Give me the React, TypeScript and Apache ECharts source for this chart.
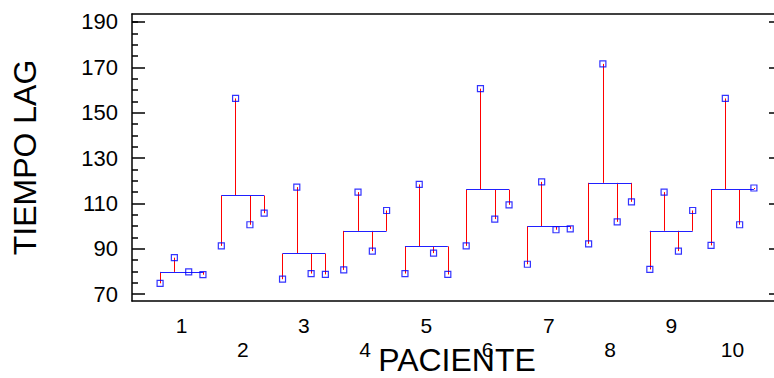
import React, { useEffect, useRef } from "react";
import * as echarts from "echarts";

// Patient numbers and the four repeated lag-time measurements per patient
const pacientes = [1, 2, 3, 4, 5, 6, 7, 8, 9, 10];
const medida1 = [74.8, 91.3, 76.6, 80.7, 79.1, 91.3, 83.2, 92.2, 80.9, 91.5];
const medida2 = [86.1, 156.3, 117.2, 115.0, 118.4, 160.6, 119.5, 171.5, 115.0, 156.3];
const medida3 = [79.8, 100.6, 79.1, 89.0, 88.1, 103.1, 98.4, 101.9, 89.0, 100.6];
const medida4 = [78.6, 105.7, 78.7, 106.9, 78.7, 109.4, 98.8, 110.7, 106.9, 116.8];

// Horizontal placement of each measurement around its patient
const desplazamientos = [-0.35, -0.117, 0.117, 0.35];

// Y tick values
const ticksMayores = [70, 90, 110, 130, 150, 170, 190];
const ticksMenores = [75, 80, 85, 95, 100, 105, 115, 120, 125, 135, 140, 145, 155, 160, 165, 175, 180, 185, 190];

const FONT = "'Liberation Sans', Arial, sans-serif";

export default function App() {
  const ref = useRef<HTMLDivElement>(null);

  useEffect(() => {
    if (!ref.current) return;
    const chart = echarts.init(ref.current, null, { renderer: "svg" });

    const medidas = [medida1, medida2, medida3, medida4];
    const puntos: number[][] = [];
    const verticales: { coords: number[][] }[] = [];
    const medias: { coords: number[][] }[] = [];

    pacientes.forEach((p, i) => {
      const vals = medidas.map((m) => m[i]);
      const media = vals.reduce((a, b) => a + b, 0) / vals.length;
      const xs = desplazamientos.map((d) => p + d);
      medias.push({ coords: [[xs[0], media], [xs[xs.length - 1], media]] });
      vals.forEach((v, j) => {
        puntos.push([xs[j], v]);
        verticales.push({ coords: [[xs[j], media], [xs[j], v]] });
      });
    });

    const xMin = 0.191;
    const xMax = 10.809;
    const yMin = 67;
    const yMax = 193.5;
    const frame = { lineStyle: { color: "#000", width: 1.5 } };

    chart.setOption({
      animation: false,
      grid: {
        left: 132,
        right: -8,
        top: 14,
        bottom: 77,
        containLabel: false,
        outerBoundsMode: "none",
      },
      xAxis: [
        {
          type: "value",
          position: "bottom",
          min: xMin,
          max: xMax,
          axisLine: { show: true, ...frame },
          axisTick: { show: false },
          splitLine: { show: false },
          axisLabel: {
            customValues: pacientes,
            formatter: (v: number) => (v % 2 === 0 ? "\n" + v : String(v)),
            fontSize: 21,
            lineHeight: 24,
            color: "#000",
            fontFamily: FONT,
            margin: 12,
          },
          name: "PACIENTE",
          nameLocation: "middle",
          nameGap: 43,
          nameMoveOverlap: false,
          nameTextStyle: { fontSize: 32, color: "#000", fontFamily: FONT },
        },
        {
          type: "value",
          position: "top",
          min: xMin,
          max: xMax,
          axisLine: { show: true, ...frame },
          axisTick: { show: false },
          axisLabel: { show: false },
          splitLine: { show: false },
        },
      ],
      yAxis: [
        {
          type: "value",
          position: "left",
          min: yMin,
          max: yMax,
          axisLine: { show: true, ...frame },
          axisTick: {
            show: true,
            inside: true,
            length: 13,
            customValues: ticksMayores,
            lineStyle: { color: "#000", width: 1.5 },
          },
          axisLabel: {
            customValues: ticksMayores,
            fontSize: 22,
            color: "#000",
            fontFamily: FONT,
            margin: 14,
          },
          splitLine: { show: false },
          name: "TIEMPO LAG",
          nameLocation: "middle",
          nameGap: 91,
          nameRotate: 90,
          nameMoveOverlap: false,
          nameTextStyle: { fontSize: 32, color: "#000", fontFamily: FONT },
        },
        {
          type: "value",
          position: "left",
          min: yMin,
          max: yMax,
          axisLine: { show: false },
          axisTick: {
            show: true,
            inside: true,
            length: 6,
            customValues: ticksMenores,
            lineStyle: { color: "#000", width: 1.5 },
          },
          axisLabel: { show: false },
          splitLine: { show: false },
        },
        {
          type: "value",
          position: "right",
          min: yMin,
          max: yMax,
          axisLine: { show: true, ...frame },
          axisTick: {
            show: true,
            inside: true,
            length: 13,
            customValues: ticksMayores,
            lineStyle: { color: "#000", width: 1.5 },
          },
          axisLabel: { show: false },
          splitLine: { show: false },
        },
      ],
      series: [
        {
          type: "lines",
          coordinateSystem: "cartesian2d",
          xAxisIndex: 0,
          yAxisIndex: 0,
          polyline: false,
          silent: true,
          lineStyle: { color: "#ff0000", width: 1, opacity: 1 },
          data: verticales,
          z: 2,
        },
        {
          type: "lines",
          coordinateSystem: "cartesian2d",
          xAxisIndex: 0,
          yAxisIndex: 0,
          polyline: false,
          silent: true,
          lineStyle: { color: "#2020ff", width: 1.2, opacity: 1 },
          data: medias,
          z: 3,
        },
        {
          type: "scatter",
          xAxisIndex: 0,
          yAxisIndex: 0,
          symbol: "rect",
          symbolSize: 6,
          itemStyle: { color: "rgba(0,0,0,0)", borderColor: "#0000ff", borderWidth: 1.2 },
          data: puntos,
          z: 4,
        },
      ],
    });

    return () => chart.dispose();
  }, []);

  return (
    <div
      ref={ref}
      style={{ position: "fixed", left: 0, top: 0, width: 774, height: 378, background: "#fff" }}
    />
  );
}
